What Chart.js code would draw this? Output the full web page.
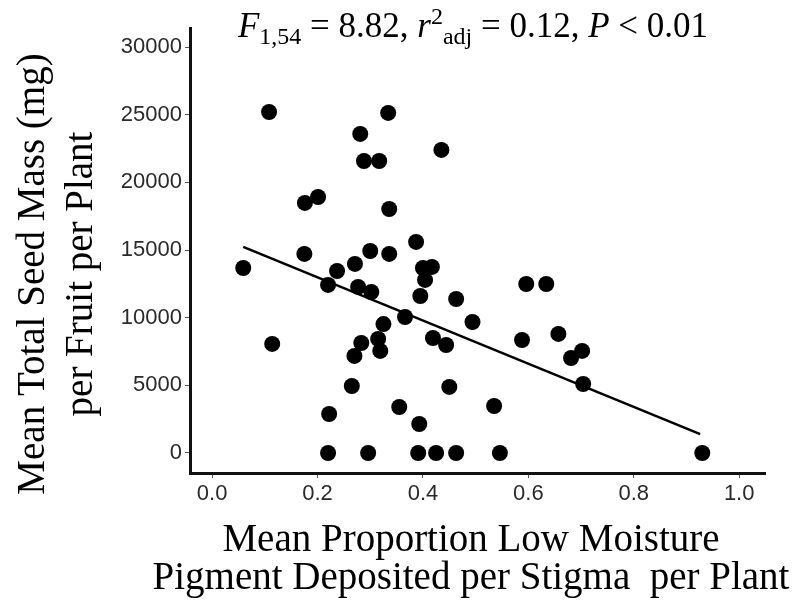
<!DOCTYPE html>
<html>
<head>
<meta charset="utf-8">
<script src="https://cdn.jsdelivr.net/npm/chart.js@4.4.1/dist/chart.umd.min.js"></script>
<style>
  html,body{margin:0;padding:0;background:#fff;}
  #wrap{width:793px;height:610px;position:relative;}
</style>
</head>
<body>
<div id="wrap"><canvas id="c" width="793" height="610"></canvas></div>
<script>
// mean proportion of low-moisture pigment per stigma (x) and seed mass (y)
const propLow = [0.059,0.108,0.114,0.176,0.201,0.281,0.334,0.288,0.317,0.435,
  0.336,0.387,0.175,0.300,0.336,0.271,0.237,0.220,0.277,0.302,
  0.400,0.417,0.404,0.395,0.463,0.366,0.494,0.325,0.283,0.315,
  0.319,0.270,0.419,0.444,0.265,0.450,0.222,0.355,0.393,0.596,
  0.634,0.588,0.657,0.702,0.681,0.704,0.535,
  0.220,0.296,0.391,0.425,0.463,0.546,0.930];
const seedMass = [13670,25200,8060,18480,18920,23580,25130,21580,21580,22400,
  18030,15600,14710,14930,14710,13970,13450,12420,12270,11900,
  13670,13750,12790,11600,11380,10050,9680,9530,8130,8430,
  7540,7170,8500,7980,4950,4880,2880,3400,2140,12490,
  12490,8350,8800,7540,7020,5100,3470,
  0,0,0,0,0,0,0];

// fitted regression line end points
const fitX = [0.059, 0.926];
const fitY = [15230, 1400];

const xTicks = [0,0.2,0.4,0.6,0.8,1.0];
const yTicks = [0,5000,10000,15000,20000,25000,30000];

const serif = '"Liberation Serif","Times New Roman",serif';
const sans  = '"Liberation Sans",Arial,sans-serif';

// title / axis labels drawn by hand (sub- and superscripts)
const labelsPlugin = {
  id:'labels',
  afterDraw(chart){
    const ctx = chart.ctx;
    ctx.save();
    ctx.fillStyle = '#000';
    ctx.textBaseline = 'alphabetic';

    // stats line on top
    const fs = 35;
    const runs = [
      {t:'F', it:true}, {t:'1,54', sub:true}, {t:' = 8.82, '},
      {t:'r', it:true}, {t:'2', sup:true}, {t:'adj', sub:true}, {t:' = 0.12, '},
      {t:'P', it:true}, {t:' < 0.01'}
    ];
    const fontOf = r => `${r.it?'italic ':''}${(r.sub||r.sup)?Math.round(fs*0.68):fs}px ${serif}`;
    let w = 0;
    runs.forEach(r=>{ ctx.font = fontOf(r); r.w = ctx.measureText(r.t).width; w += r.w; });
    let x = 473 - w/2, base = 37;
    ctx.textAlign = 'left';
    runs.forEach(r=>{
      ctx.font = fontOf(r);
      const dy = r.sub ? 7 : r.sup ? -13 : 0;
      ctx.fillText(r.t, x, base + dy);
      x += r.w;
    });

    // x axis title
    ctx.font = `39px ${serif}`;
    ctx.textAlign = 'center';
    ctx.fillText('Mean Proportion Low Moisture', 471, 551);
    ctx.fillText('Pigment Deposited per Stigma  per Plant', 471, 589);

    // y axis title
    ctx.translate(0, 274);
    ctx.rotate(-Math.PI/2);
    ctx.fillText('Mean Total Seed Mass (mg)', 0, 44);
    ctx.fillText('per Fruit per Plant', 0, 92);
    ctx.restore();
  }
};

const ctx = document.getElementById('c').getContext('2d');
new Chart(ctx, {
  type:'scatter',
  data:{
    datasets:[
      { type:'line', data: fitX.map((v,i)=>({x:v, y:fitY[i]})),
        borderColor:'#000', borderWidth:2.5, pointRadius:0, fill:false, tension:0 },
      { data: propLow.map((v,i)=>({x:v, y:seedMass[i]})),
        backgroundColor:'#000', borderWidth:0, pointRadius:8, pointHoverRadius:8 }
    ]
  },
  plugins:[labelsPlugin],
  options:{
    responsive:false, animation:false,
    layout:{padding:{left:0, right:28, top:28, bottom:0}},
    plugins:{ legend:{display:false}, tooltip:{enabled:false} },
    scales:{
      x:{
        type:'linear', min:-0.042, max:1.049,
        afterBuildTicks: s => { s.ticks = xTicks.map(v=>({value:v})); },
        afterFit: s => { s.height = 137; },
        border:{display:true, color:'#111', width:3},
        grid:{drawOnChartArea:false, drawTicks:true, tickLength:5, color:'#555'},
        ticks:{color:'#2a2a2a', padding:3, font:{family:sans, size:22},
          callback: v => v.toFixed(1)}
      },
      y:{
        type:'linear', min:-1480, max:31410,
        afterBuildTicks: s => { s.ticks = yTicks.map(v=>({value:v})); },
        afterFit: s => { s.width = 190; },
        border:{display:true, color:'#111', width:3},
        grid:{drawOnChartArea:false, drawTicks:true, tickLength:5, color:'#555'},
        ticks:{color:'#2a2a2a', padding:3, font:{family:sans, size:22},
          callback: v => String(v)}
      }
    }
  }
});
</script>
</body>
</html>
